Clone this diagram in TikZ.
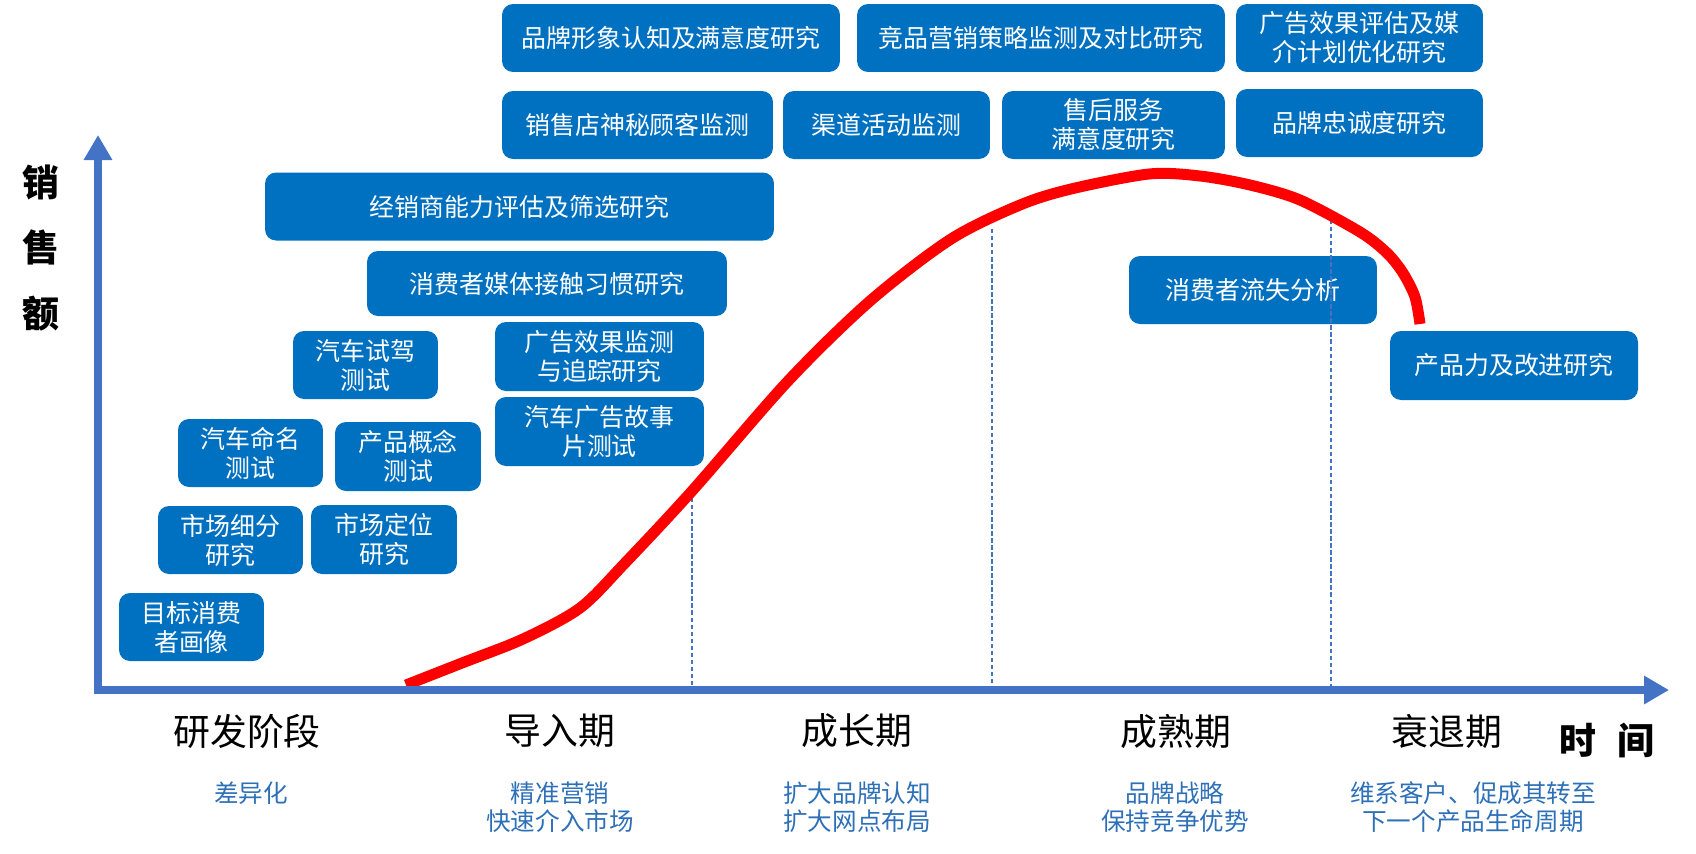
\documentclass[tikz,border=0pt]{standalone}
\usepackage{fontspec}
\setmainfont{Noto Sans CJK SC}
\usetikzlibrary{arrows.meta,positioning}
\definecolor{boxblue}{RGB}{0,112,192}
\definecolor{axisblue}{RGB}{68,114,196}
\definecolor{noteblue}{RGB}{46,112,184}
\definecolor{curvered}{RGB}{255,0,0}

\begin{document}
\begin{tikzpicture}[x=0.02cm, y=-0.02cm,
  box/.style={fill=boxblue, rounded corners=0.22cm, text=white, minimum height=1.36cm, inner sep=0pt, align=center, font=\fontsize{14.2}{16.5}\selectfont},
  phase/.style={text=black, font=\fontsize{21}{24}\selectfont},
  note/.style={text=noteblue, align=center, font=\fontsize{14}{16}\selectfont},
  axislbl/.style={text=black, align=center, font=\fontsize{21}{37.4}\selectfont\bfseries},
  guide/.style={axisblue, line width=0.6pt, dash pattern=on 2.5pt off 1.5pt},
  axis/.style={axisblue, line width=0.16cm, {Triangle[length=0.5cm,width=0.54cm]}-{Triangle[length=0.5cm,width=0.54cm]}}]
\useasboundingbox (0,0) rectangle (1696,853);

% top rows
\node[box, minimum width=6.76cm] (brand) at (671,38) {品牌形象认知及满意度研究};
\node[box, minimum width=7.36cm] (rival) at (1041,38) {竞品营销策略监测及对比研究};
\node[box, minimum width=4.94cm] (adplan) at (1359.5,38) {广告效果评估及媒\\介计划优化研究};
\node[box, minimum width=5.42cm] (mystery) at (637.5,125) {销售店神秘顾客监测};
\node[box, minimum width=4.14cm] (channel) at (886.5,125) {渠道活动监测};
\node[box, minimum width=4.46cm] (service) at (1113.5,125) {售后服务\\满意度研究};
\node[box, minimum width=4.94cm] (loyalty) at (1359.5,123) {品牌忠诚度研究};

% left stack
\node[box, minimum width=10.18cm] (dealer) at (519.5,206.5) {经销商能力评估及筛选研究};
\node[box, minimum width=7.2cm, minimum height=1.3cm] (media) at (547,283.5) {消费者媒体接触习惯研究};
\node[box, minimum width=2.9cm] (drive) at (365.5,365) {汽车试驾\\测试};
\node[box, minimum width=4.18cm, minimum height=1.38cm] (adtrack) at (599.5,356.5) {广告效果监测\\与追踪研究};
\node[box, minimum width=4.18cm, minimum height=1.38cm] (adfilm) at (599.5,431.5) {汽车广告故事\\片测试};
\node[box, minimum width=2.9cm] (naming) at (250.5,453) {汽车命名\\测试};
\node[box, minimum width=2.92cm, minimum height=1.38cm] (concept) at (408,456.5) {产品概念\\测试};
\node[box, minimum width=2.9cm] (segment) at (230.5,540) {市场细分\\研究};
\node[box, minimum width=2.92cm, minimum height=1.38cm] (position) at (384,539.5) {市场定位\\研究};
\node[box, minimum width=2.9cm] (persona) at (191.5,627) {目标消费\\者画像};

% right side
\node[box, minimum width=4.96cm] (churn) at (1253,290) {消费者流失分析};
\node[box, minimum width=4.96cm, minimum height=1.38cm] (improve) at (1514,365.5) {产品力及改进研究};

% phase borders
\draw[guide] (692,491) -- (692,686);
\draw[guide] (992,229) -- (992,686);
\draw[guide] (1331,220) -- (1331,686);

% sales curve
\draw[curvered, line width=0.22cm] plot[smooth, tension=0.5] coordinates {(406,685) (462,663) (523,639) (580,608) (625,563) (692,491) (788,381) (870,301) (951,239) (1020,205) (1071,189) (1149,174) (1200,176) (1250,185) (1300,200) (1360,232) (1387,253) (1403,273) (1415,297) (1420,324)};

% axes
\coordinate (o) at (98,690);
\coordinate (ytop) at (98,135);
\coordinate (xend) at (1669,690);
\draw[axis] (ytop) -- (o) -- (xend);
\node[axislbl] (ylab) at (41,248) {销\\售\\额};
\node[axislbl] (xlab) at (1607,740) {时\hspace{0.55em}间};

% phases
\node[phase] (rd) at (247,731) {研发阶段};
\node[phase] (intro) at (560,731) {导入期};
\node[phase] (grow) at (857,731) {成长期};
\node[phase] (mature) at (1176,731) {成熟期};
\node[phase] (decline) at (1447,731) {衰退期};
\node[note] (rdn) at (251,793) {差异化};
\node[note] (intron) at (560,807) {精准营销\\快速介入市场};
\node[note] (grown) at (857,807) {扩大品牌认知\\扩大网点布局};
\node[note] (maturen) at (1175,807) {品牌战略\\保持竞争优势};
\node[note] (declinen) at (1473,807) {维系客户、促成其转至\\下一个产品生命周期};
\end{tikzpicture}
\end{document}
